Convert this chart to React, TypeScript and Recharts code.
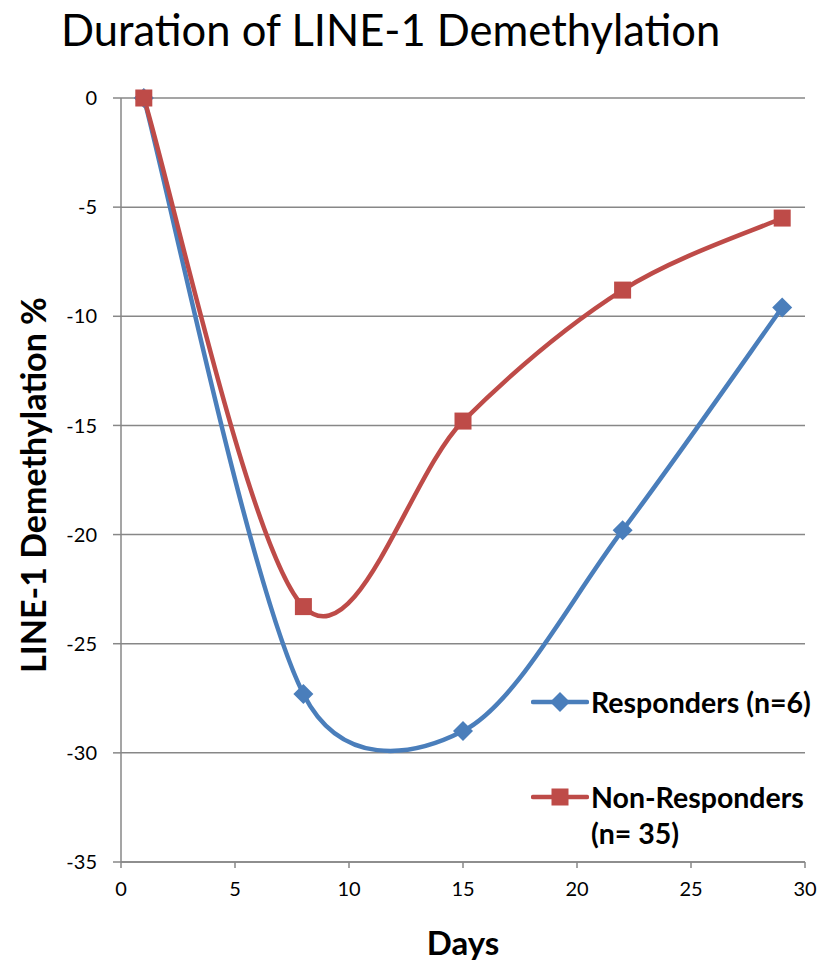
import { LineChart, Line, XAxis, YAxis, CartesianGrid, Legend } from 'recharts'

const days = [1, 8, 15, 22, 29]
const responders = [0, -27.3, -29.0, -19.8, -9.6]
const nonResponders = [0, -23.3, -14.8, -8.8, -5.5]
const xTicks = [0, 5, 10, 15, 20, 25, 30]
const yTicks = [0, -5, -10, -15, -20, -25, -30, -35]

const BLUE = '#4A7EBB'
const RED = '#BE4B48'
const GRID = '#878787'
const FONT = 'Lato, "Open Sans", sans-serif'

const data = days.map((d, i) => ({
  day: d,
  responders: responders[i],
  nonResponders: nonResponders[i]
}))

// Excel-like smoothed line: cardinal bezier, handles capped at half the segment length
const excelSmooth = (context: any) => {
  let pts: number[][] = []
  const dist = (a: number[], b: number[]) => Math.hypot(b[0] - a[0], b[1] - a[1])
  return {
    areaStart() {},
    areaEnd() {},
    lineStart() {
      pts = []
    },
    point(x: number, y: number) {
      pts.push([+x, +y])
    },
    lineEnd() {
      const n = pts.length
      if (!n) return
      context.moveTo(pts[0][0], pts[0][1])
      for (let i = 0; i < n - 1; i++) {
        const p0 = pts[Math.max(i - 1, 0)]
        const p1 = pts[i]
        const p2 = pts[i + 1]
        const p3 = pts[Math.min(i + 2, n - 1)]
        const seg = dist(p1, p2)
        const d02 = dist(p0, p2)
        const d13 = dist(p1, p3)
        const f1 = d02 ? Math.min(1 / 6, seg / 2 / d02) : 0
        const f2 = d13 ? Math.min(1 / 6, seg / 2 / d13) : 0
        context.bezierCurveTo(
          p1[0] + (p2[0] - p0[0]) * f1,
          p1[1] + (p2[1] - p0[1]) * f1,
          p2[0] - (p3[0] - p1[0]) * f2,
          p2[1] - (p3[1] - p1[1]) * f2,
          p2[0],
          p2[1]
        )
      }
    }
  }
}

const Diamond = ({ cx, cy, fill }: any) => (
  <path d={`M${cx},${cy - 10}L${cx + 10},${cy}L${cx},${cy + 10}L${cx - 10},${cy}Z`} fill={fill} />
)

const Square = ({ cx, cy, fill }: any) => (
  <rect x={cx - 8.5} y={cy - 8.5} width={17} height={17} fill={fill} />
)

const LegendIcon = ({ color, square }: { color: string; square?: boolean }) => (
  <svg width={58} height={24} style={{ position: 'absolute', left: 0, top: 4 }}>
    <line x1={2} y1={12} x2={56} y2={12} stroke={color} strokeWidth={4.5} strokeLinecap="round" />
    {square ? <Square cx={29} cy={12} fill={color} /> : <Diamond cx={29} cy={12} fill={color} />}
  </svg>
)

const renderLegend = () => (
  <div style={{ position: 'relative', width: 300, height: 170, fontFamily: FONT, fontWeight: 700, fontSize: 28.5, color: '#000', lineHeight: '32px', textAlign: 'left' }}>
    <div style={{ position: 'absolute', left: 0, top: 0 }}>
      <LegendIcon color={BLUE} />
      <span style={{ position: 'absolute', left: 60, top: 0, whiteSpace: 'nowrap' }}>Responders (n=6)</span>
    </div>
    <div style={{ position: 'absolute', left: 0, top: 95 }}>
      <LegendIcon color={RED} square />
      <span style={{ position: 'absolute', left: 60, top: 0, whiteSpace: 'nowrap' }}>Non-Responders</span>
      <span style={{ position: 'absolute', left: 60, top: 36, whiteSpace: 'nowrap' }}>(n= 35)</span>
    </div>
  </div>
)

const YLabel = ({ viewBox }: any) => {
  const x = 24
  const y = viewBox.y + viewBox.height / 2 + 5
  return (
    <text
      x={x}
      y={y}
      transform={`rotate(-90, ${x}, ${y})`}
      textAnchor="middle"
      dominantBaseline="central"
      fontFamily={FONT}
      fontWeight={700}
      fontSize={34}
      fill="#000"
    >
      LINE-1 Demethylation %
    </text>
  )
}

const XLabel = ({ viewBox }: any) => {
  const x = viewBox.x + viewBox.width / 2
  return (
    <text x={x} y={947} textAnchor="middle" fontFamily={FONT} fontWeight={700} fontSize={33} fill="#000">
      Days
    </text>
  )
}

export default function App() {
  return (
    <div style={{ position: 'absolute', left: 8, top: 8, width: 815, height: 954 }}>
      <div
        style={{
          position: 'absolute',
          left: 53,
          top: 1,
          fontFamily: FONT,
          fontSize: 43.5,
          lineHeight: '40px',
          color: '#000',
          whiteSpace: 'nowrap'
        }}
      >
        Duration of LINE-1 Demethylation
      </div>
      <LineChart width={815} height={954} data={data} margin={{ top: 90, right: 18, bottom: 0, left: 0 }}>
        <CartesianGrid vertical={false} stroke={GRID} strokeWidth={1.5} />
        <XAxis
          dataKey="day"
          type="number"
          domain={[0, 30]}
          ticks={xTicks}
          height={100}
          axisLine={{ stroke: GRID, strokeWidth: 1.5 }}
          tickLine={{ stroke: GRID, strokeWidth: 1.5 }}
          tickSize={6}
          tickMargin={14}
          tick={{ fill: '#000', fontSize: 20, fontFamily: FONT }}
          label={<XLabel />}
        />
        <YAxis
          type="number"
          domain={[-35, 0]}
          ticks={yTicks}
          width={113}
          interval={0}
          axisLine={{ stroke: GRID, strokeWidth: 1.5 }}
          tickLine={{ stroke: GRID, strokeWidth: 1.5 }}
          tickSize={8}
          tickMargin={16}
          tick={{ fill: '#000', fontSize: 20, fontFamily: FONT }}
          label={<YLabel />}
        />
        <Legend
          layout="horizontal"
          verticalAlign="middle"
          align="center"
          content={renderLegend}
          wrapperStyle={{ position: 'absolute', left: 523, top: 678, width: 300, height: 170 }}
        />
        <Line
          type={excelSmooth as any}
          dataKey="responders"
          name="Responders (n=6)"
          stroke={BLUE}
          strokeWidth={4.5}
          dot={(p: any) => <Diamond key={`r-${p.index}`} cx={p.cx} cy={p.cy} fill={BLUE} />}
          isAnimationActive={false}
        />
        <Line
          type={excelSmooth as any}
          dataKey="nonResponders"
          name="Non-Responders (n= 35)"
          stroke={RED}
          strokeWidth={4.5}
          dot={(p: any) => <Square key={`n-${p.index}`} cx={p.cx} cy={p.cy} fill={RED} />}
          isAnimationActive={false}
        />
      </LineChart>
    </div>
  )
}
